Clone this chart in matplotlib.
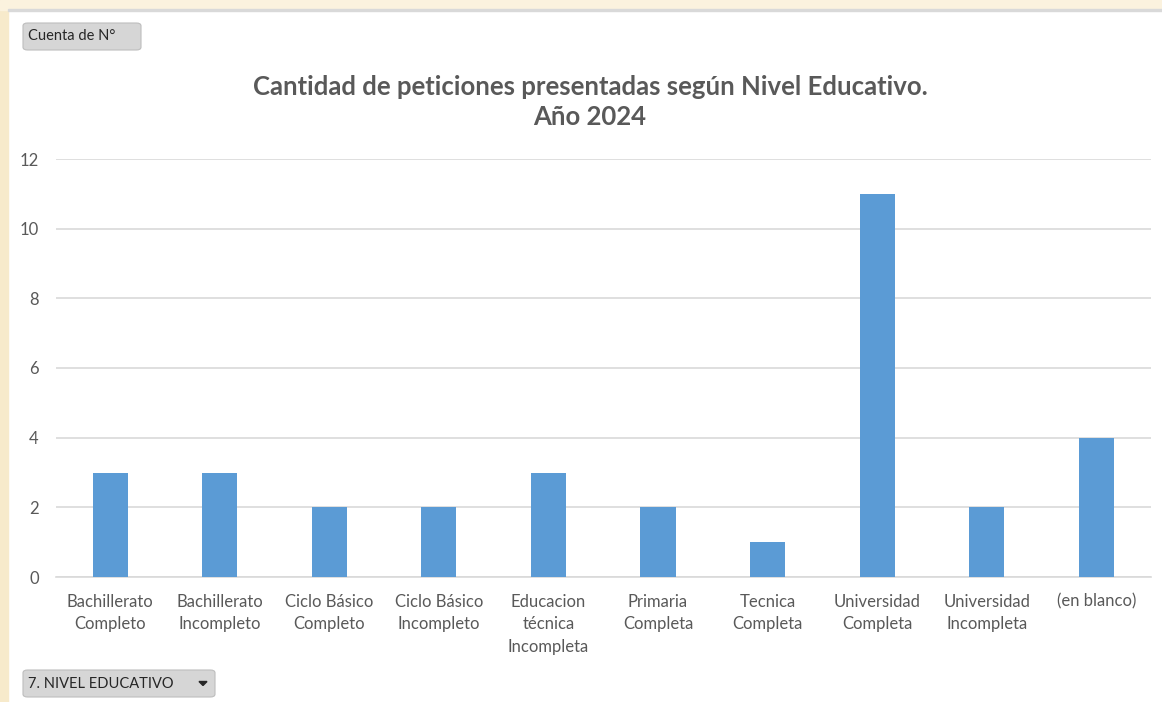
import matplotlib
matplotlib.use("Agg")
import matplotlib.pyplot as plt
from matplotlib.patches import FancyBboxPatch, Rectangle, Polygon

categories = ["Bachillerato\nCompleto", "Bachillerato\nIncompleto", "Ciclo Básico\nCompleto",
              "Ciclo Básico\nIncompleto", "Educacion\ntécnica\nIncompleta", "Primaria\nCompleta",
              "Tecnica\nCompleta", "Universidad\nCompleta", "Universidad\nIncompleta", "(en blanco)"]
values = [3, 3, 2, 2, 3, 2, 1, 11, 2, 4]
yticks = [0, 2, 4, 6, 8, 10, 12]
title = "Cantidad de peticiones presentadas según Nivel Educativo.\nAño 2024"

W, H = 1162, 702
plt.rcParams['font.family'] = ['Lato', 'DejaVu Sans']
fig = plt.figure(figsize=(W / 100, H / 100), dpi=100)
fig.patch.set_facecolor("white")

# background beige frame
fig.patches.append(Rectangle((0, 0), 8 / W, 1, transform=fig.transFigure, color="#F7EACB", zorder=0))
fig.patches.append(Rectangle((0, 1 - 10 / H), 1, 10 / H, transform=fig.transFigure, color="#FBF2DE", zorder=0))
fig.patches.append(Rectangle((8 / W, 1 - 11 / H), 1, 2 / H, transform=fig.transFigure, color="#D9D9D9", zorder=1))

left, right, top, bottom = 55.5, 1151, 159, 577
ax = fig.add_axes([left / W, 1 - bottom / H, (right - left) / W, (bottom - top) / H])
x = list(range(len(categories)))
ax.bar(x, values, width=0.32, color="#5B9BD5", zorder=3)
ax.set_xlim(-0.5, len(categories) - 0.5)
ax.set_ylim(0, 12)
ax.set_yticks(yticks)
ax.set_xticks(x)
ax.set_xticklabels(categories, fontsize=12, color="#595959", linespacing=1.52, va="top")
ax.tick_params(axis="y", labelsize=12, labelcolor="#595959", length=0, pad=12)
ax.tick_params(axis="x", length=0, pad=12)
ax.grid(axis="y", color="#D9D9D9", linewidth=1.2, zorder=0)
for s in ["top", "right", "left"]:
    ax.spines[s].set_visible(False)
ax.spines["bottom"].set_color("#D9D9D9")
ax.spines["bottom"].set_linewidth(1.2)
ax.set_facecolor("white")

fig.text(590 / W, 1 - 102 / H, title, ha="center", va="center", fontsize=18.5,
         fontweight="bold", color="#595959", linespacing=1.3)

# buttons
def button(x0, y0, w, h, label, arrow=False):
    p = FancyBboxPatch((x0 / W, 1 - (y0 + h) / H), w / W, h / H,
                       boxstyle="round,pad=0,rounding_size=0.004", transform=fig.transFigure,
                       facecolor="#D6D6D6", edgecolor="#BDBDBD", linewidth=0.8, zorder=5)
    fig.patches.append(p)
    fig.text((x0 + 5) / W, 1 - (y0 + h / 2) / H, label, ha="left", va="center",
             fontsize=10.5, color="#262626", zorder=6)
    if arrow:
        cx, cy = x0 + w - 12, y0 + h / 2
        tri = Polygon([((cx - 4) / W, 1 - (cy - 2) / H), ((cx + 4) / W, 1 - (cy - 2) / H),
                       (cx / W, 1 - (cy + 2) / H)], closed=True, transform=fig.transFigure,
                      color="#262626", zorder=6)
        fig.patches.append(tri)

button(23, 23, 118, 27, "Cuenta de N°")
button(23, 670, 192, 27, "7. NIVEL EDUCATIVO", arrow=True)

fig.savefig("out.png", dpi=100, facecolor=fig.get_facecolor())
